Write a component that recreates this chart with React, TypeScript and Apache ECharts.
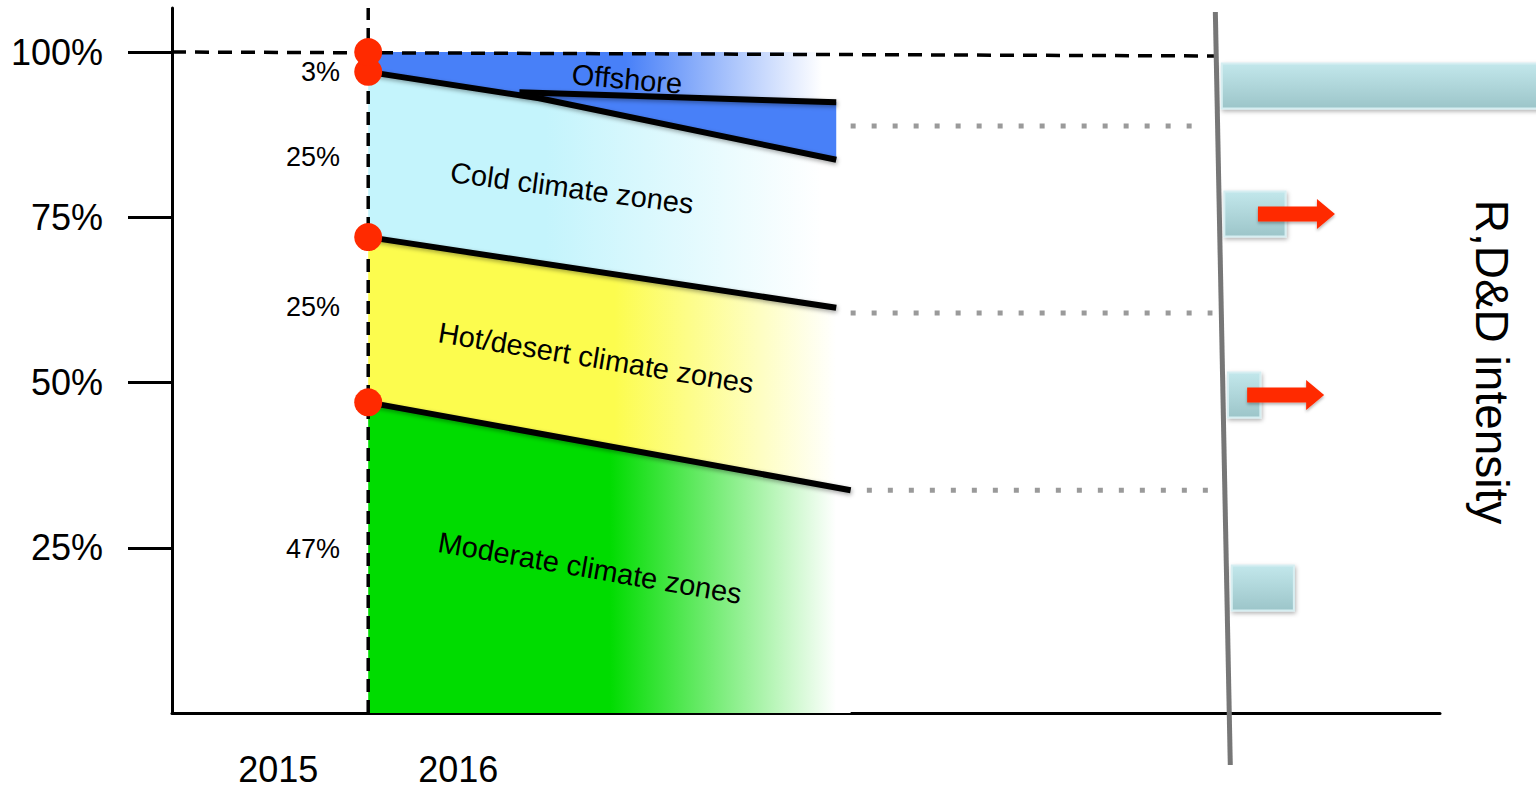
import { useEffect, useRef } from 'react';
import * as echarts from 'echarts';

// ---- data ----
const yearLabels = [2015, 2016];
const yTicks = [25, 50, 75, 100];

const segmentNames = ['Moderate climate zones', 'Hot/desert climate zones', 'Cold climate zones', 'Offshore'];
const segmentShares = [47, 25, 25, 3]; // market share (%) at the start of 2016
const segmentColors = ['#00DC00', '#FCFC4E', '#C4F4FC', '#4880F8'];

const splitYear = 2015.5; // boundary between 2015 and 2016
const projectionEnd = 2018.1;

// cumulative share = upper edge of each segment at the split
const cumulative: number[] = [];
segmentShares.forEach((s, i) => cumulative.push((i > 0 ? cumulative[i - 1] : 0) + s));

// segment borders from the split towards the end of the projection
const hotModerateBorder = [[splitYear, cumulative[0]], [2018.18, 33.7]];
const coldHotBorder = [[splitYear, cumulative[1]], [projectionEnd, 61.3]];
const offshoreColdBorder = [[splitYear, cumulative[2]], [2016.45, 93.0], [projectionEnd, 83.7]];
const offshoreUpperEdge = [[2016.34, 93.9], [projectionEnd, 92.4]];
const marketTop = [[splitYear, cumulative[3]], [projectionEnd, cumulative[3]]];
const marketBottom = [[splitYear, 0], [2018.18, 0]];

// dotted guides from the segments to the R,D&D panel
const guideLevels = [88.8, 60.5, 33.7];
const guideStarts = [2018.18, 2018.18, 2018.27];
const guideEnds = [2020.12, 2020.19, 2020.2];

// divider in front of the R,D&D panel, and the 100% reference line
const dividerLine = [[2020.206, 106.05], [2020.289, -7.87]];
const fullMarketLine = [[2014.41, 100], [2020.2, 99.4]];
const splitLine = [[splitYear, 0], [splitYear, 106.66]];

// R,D&D intensity per segment (Moderate, Hot, Cold, Offshore)
const rdLevels = [18.9, 48.1, 75.5, 94.86];
const rdIntensity = [0.345, 0.18, 0.34, 1.9];
const rdRising = [0, 1, 1, 0];

// ---- layout / style ----
const FONT = '"Liberation Sans", Arial, Helvetica, sans-serif';
const bandLower = [marketBottom, hotModerateBorder, coldHotBorder, offshoreColdBorder];
const bandUpper = [hotModerateBorder, coldHotBorder, offshoreColdBorder, marketTop];
const bandFadeStart = [0.5, 0.51, 0.38, 0.55];

const interp = (line: number[][], x: number) => {
  for (let k = 0; k < line.length - 1; k++) {
    const [x0, y0] = line[k];
    const [x1, y1] = line[k + 1];
    if (x >= x0 && x <= x1) return y0 + ((x - x0) / (x1 - x0)) * (y1 - y0);
  }
  return line[line.length - 1][1];
};

const fade = (color: string, start: number) =>
  new echarts.graphic.LinearGradient(0, 0, 1, 0, [
    { offset: 0, color },
    { offset: start, color },
    { offset: 0.97, color: '#ffffff' },
    { offset: 1, color: '#ffffff' },
  ]);

const shadow = { shadowColor: 'rgba(0,0,0,0.35)', shadowBlur: 4, shadowOffsetY: 2, shadowOffsetX: 1 };

const borderSeries = (data: number[][]) => ({
  type: 'line',
  data,
  symbol: 'none',
  silent: true,
  z: 4,
  lineStyle: { color: '#000', width: 6, ...shadow },
});

const shareLabelY = [549, 307, 157, 72];
const nameLabels = [
  { x: 590, y: 568, rot: -9.8 },
  { x: 596, y: 358, rot: -9.3 },
  { x: 572, y: 188, rot: -7.5 },
  { x: 627, y: 79, rot: -5 },
];

const option: any = {
  animation: false,
  grid: { left: 172, right: 96, top: 8, bottom: 75 },
  xAxis: {
    type: 'value',
    min: 2014.41,
    max: 2021.454,
    axisLine: { show: true, lineStyle: { color: '#000', width: 3 } },
    axisTick: { show: false },
    splitLine: { show: false },
    axisLabel: {
      customValues: yearLabels,
      formatter: (v: number) => String(Math.round(v)),
      fontSize: 36,
      color: '#000',
      fontFamily: FONT,
      margin: 38,
    },
  },
  yAxis: {
    type: 'value',
    min: 0,
    max: 106.66,
    axisLine: { show: true, lineStyle: { color: '#000', width: 3 } },
    axisTick: { show: true, customValues: yTicks, length: 44, lineStyle: { color: '#000', width: 3 } },
    splitLine: { show: false },
    axisLabel: {
      customValues: yTicks,
      formatter: '{value}%',
      fontSize: 36,
      color: '#000',
      fontFamily: FONT,
      margin: 69,
    },
  },
  series: [
    {
      type: 'custom',
      silent: true,
      z: 2,
      data: segmentNames.map((_, i) => [i]),
      renderItem: (_p: any, api: any) => {
        const i = api.value(0);
        const pts = [
          ...bandLower[i].map((p) => api.coord(p)),
          ...bandUpper[i].slice().reverse().map((p) => api.coord(p)),
        ];
        const children: any[] = [
          { type: 'polygon', shape: { points: pts }, style: { fill: fade(segmentColors[i], bandFadeStart[i]) } },
        ];
        if (i === 3) {
          const x0 = offshoreUpperEdge[0][0];
          const wedge = [
            ...offshoreUpperEdge.map((p) => api.coord(p)),
            ...offshoreColdBorder
              .filter((p) => p[0] > x0)
              .slice()
              .reverse()
              .map((p) => api.coord(p)),
            api.coord([x0, interp(offshoreColdBorder, x0)]),
          ];
          children.push({ type: 'polygon', shape: { points: wedge }, style: { fill: segmentColors[3] } });
        }
        return { type: 'group', children };
      },
    },
    borderSeries(hotModerateBorder),
    borderSeries(coldHotBorder),
    borderSeries(offshoreColdBorder),
    borderSeries(offshoreUpperEdge),
    {
      type: 'line',
      data: splitLine,
      symbol: 'none',
      silent: true,
      z: 3,
      lineStyle: { color: '#000', width: 3.5, type: [13, 8] },
    },
    {
      type: 'line',
      data: fullMarketLine,
      symbol: 'none',
      silent: true,
      z: 3,
      lineStyle: { color: '#000', width: 3.5, type: [14, 9] },
    },
    ...guideLevels.map((lv, i) => ({
      type: 'line',
      data: [
        [guideStarts[i], lv],
        [guideEnds[i], lv],
      ],
      symbol: 'none',
      silent: true,
      z: 3,
      lineStyle: { color: '#9a9a9a', width: 5, type: [5, 16], cap: 'butt' },
    })),
    {
      type: 'line',
      data: dividerLine,
      symbol: 'none',
      silent: true,
      clip: false,
      z: 3,
      lineStyle: { color: '#777', width: 5 },
    },
    {
      type: 'scatter',
      data: cumulative.map((c) => [splitYear, c]),
      symbolSize: 28,
      silent: true,
      z: 6,
      itemStyle: { color: '#FF2A00', opacity: 1 },
    },
    {
      type: 'custom',
      silent: true,
      clip: false,
      z: 5,
      data: rdLevels.map((lv, i) => [lv, rdIntensity[i], rdRising[i]]),
      renderItem: (_p: any, api: any) => {
        const level = api.value(0);
        const len = api.value(1);
        const rising = api.value(2);
        const [[dx0, dy0], [dx1, dy1]] = dividerLine;
        const dx = dx0 + ((level - dy0) / (dy1 - dy0)) * (dx1 - dx0);
        const p = api.coord([dx, level]);
        const w = api.size([len, 0])[0];
        const h = api.size([0, 6.8])[1];
        const x0 = p[0] + 5;
        const children: any[] = [
          {
            type: 'rect',
            shape: { x: x0, y: p[1] - h / 2, width: w, height: h },
            style: {
              fill: new echarts.graphic.LinearGradient(0, 0, 0, 1, [
                { offset: 0, color: '#C2E7EB' },
                { offset: 1, color: '#9CC5C9' },
              ]),
              stroke: '#D6EEF1',
              lineWidth: 2,
              shadowColor: 'rgba(0,0,0,0.3)',
              shadowBlur: 4,
              shadowOffsetY: 2,
              shadowOffsetX: 1,
            },
          },
        ];
        if (rising) {
          const ax = x0 + w / 2 + 3;
          const cy = p[1];
          children.push({
            type: 'polygon',
            shape: {
              points: [
                [ax, cy - 7.5],
                [ax + 59, cy - 7.5],
                [ax + 59, cy - 15],
                [ax + 77, cy],
                [ax + 59, cy + 15],
                [ax + 59, cy + 7.5],
                [ax, cy + 7.5],
              ],
            },
            style: { fill: '#FF2A00', shadowColor: 'rgba(0,0,0,0.3)', shadowBlur: 3, shadowOffsetY: 2 },
          });
        }
        return { type: 'group', children };
      },
    },
  ],
  graphic: [
    ...segmentShares.map((s, i) => ({
      type: 'text',
      x: 340,
      y: shareLabelY[i],
      z: 100,
      silent: true,
      style: { text: `${s}%`, fontSize: 27, fontFamily: FONT, fill: '#000', align: 'right', verticalAlign: 'middle' },
    })),
    ...segmentNames.map((name, i) => ({
      type: 'text',
      x: nameLabels[i].x,
      y: nameLabels[i].y,
      rotation: (nameLabels[i].rot * Math.PI) / 180,
      z: 100,
      silent: true,
      style: { text: name, fontSize: 29, fontFamily: FONT, fill: '#000', align: 'center', verticalAlign: 'middle' },
    })),
    {
      type: 'text',
      x: 1492,
      y: 362,
      rotation: -Math.PI / 2,
      z: 100,
      silent: true,
      style: { text: 'R,D&D intensity', fontSize: 46, fontFamily: FONT, fill: '#000', align: 'center', verticalAlign: 'middle' },
    },
  ],
};

export default function App() {
  const ref = useRef<HTMLDivElement>(null);
  useEffect(() => {
    const chart = echarts.init(ref.current!, null, { renderer: 'svg' });
    chart.setOption(option);
    return () => chart.dispose();
  }, []);
  return (
    <div
      ref={ref}
      style={{ position: 'fixed', left: 0, top: 0, width: 1536, height: 788, background: '#ffffff' }}
    />
  );
}
